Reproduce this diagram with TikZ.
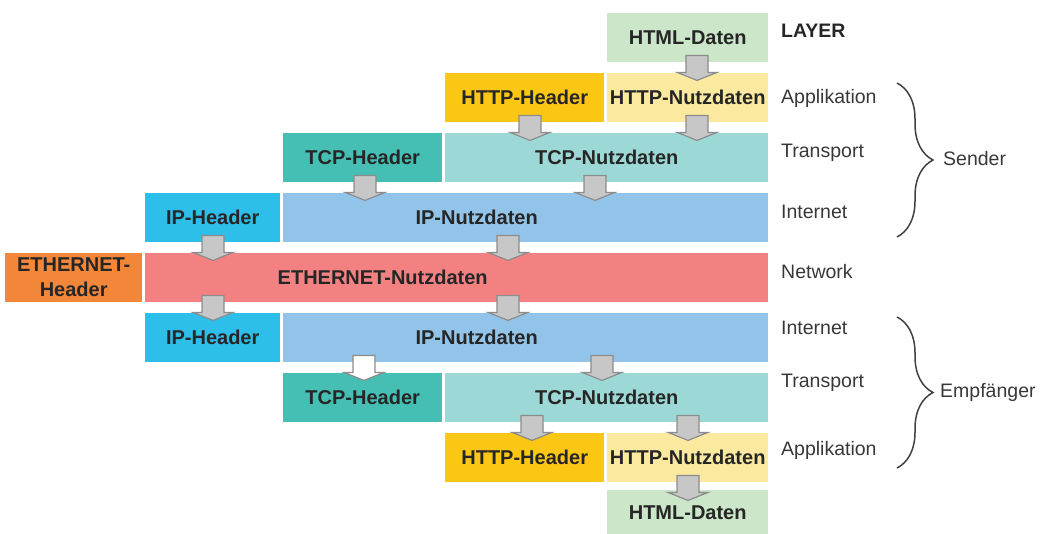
\documentclass[tikz,border=0pt]{standalone}
\usepackage{fontspec}
\setmainfont{Liberation Sans}
\usetikzlibrary{decorations.pathreplacing}
\definecolor{htmlgr}{HTML}{CBE6C8}
\definecolor{httpgelb}{HTML}{FCC714}
\definecolor{httphell}{HTML}{FCE9A0}
\definecolor{tcptuerkis}{HTML}{45BFB3}
\definecolor{tcphell}{HTML}{9CD9D6}
\definecolor{ipcyan}{HTML}{2EBEEA}
\definecolor{iphell}{HTML}{92C4EA}
\definecolor{ethorange}{HTML}{F2873A}
\definecolor{ethrot}{HTML}{F38181}
\tikzset{
  pkt/.style={anchor=north west, inner sep=0pt, minimum height=49pt, text=black!85,
    font=\fontsize{20}{25}\selectfont\bfseries},
  html/.style={pkt, fill=htmlgr, minimum width=161pt},
  httph/.style={pkt, fill=httpgelb, minimum width=159pt},
  httpn/.style={pkt, fill=httphell, minimum width=161pt},
  tcph/.style={pkt, fill=tcptuerkis, minimum width=159pt},
  tcpn/.style={pkt, fill=tcphell, minimum width=323pt},
  iph/.style={pkt, fill=ipcyan, minimum width=135pt},
  ipn/.style={pkt, fill=iphell, minimum width=485pt},
  ethh/.style={pkt, fill=ethorange, minimum width=137pt, align=center},
  ethn/.style={pkt, fill=ethrot, minimum width=623pt},
  ruck/.style={execute at end node={\hspace*{#1}}},
  layer/.style={anchor=west, inner sep=0pt, text=black!78, font=\fontsize{19.5}{22}\selectfont},
  pfeilform/.style={draw=black!45, fill=black!22, line width=1.2pt},
  hohlpfeil/.style={pfeilform, fill=white},
  klammer/.style={decorate, decoration={brace, amplitude=36pt}, draw=black!75, line width=1.5pt},
  pics/pkarrow/.style={code={
    \path[#1] (-11,-7) -- (11,-7) -- (11,10) -- (20,10) -- (0,18) -- (-20,10) -- (-11,10) -- cycle;
  }},
  pics/pkarrow/.default=pfeilform,
}

\begin{document}
\begin{tikzpicture}[x=1pt,y=-1pt]
\useasboundingbox (0,0) rectangle (1043,533);
\begin{scope}
\clip (0,0) rectangle (1043,533);
% Sender
\node[html] (html1) at (607,13) {HTML-Daten};
\node[httph] (httph1) at (445,73) {HTTP-Header};
\node[httpn] (httpn1) at (607,73) {HTTP-Nutzdaten};
\node[tcph] (tcph1) at (283,133) {TCP-Header};
\node[tcpn] (tcpn1) at (445,133) {TCP-Nutzdaten};
\node[iph] (iph1) at (145,193) {IP-Header};
\node[ipn, ruck=98pt] (ipn1) at (283,193) {IP-Nutzdaten};
% Network
\node[ethh] (ethh) at (5,253) {ETHERNET-\\Header};
\node[ethn, ruck=148pt] (ethn) at (145,253) {ETHERNET-Nutzdaten};
% Empfaenger
\node[iph] (iph2) at (145,313) {IP-Header};
\node[ipn, ruck=98pt] (ipn2) at (283,313) {IP-Nutzdaten};
\node[tcph] (tcph2) at (283,373) {TCP-Header};
\node[tcpn] (tcpn2) at (445,373) {TCP-Nutzdaten};
\node[httph] (httph2) at (445,433) {HTTP-Header};
\node[httpn] (httpn2) at (607,433) {HTTP-Nutzdaten};
\node[html, minimum height=45pt] (html2) at (607,490) {HTML-Daten};

\pic at (697,0 |- html1.south) {pkarrow};
\pic at (530,0 |- httph1.south) {pkarrow};
\pic at (697,0 |- httpn1.south) {pkarrow};
\pic at (365,0 |- tcph1.south) {pkarrow};
\pic at (595,0 |- tcpn1.south) {pkarrow};
\pic at (213,0 |- iph1.south) {pkarrow};
\pic at (508,0 |- ipn1.south) {pkarrow};
\pic at (213,0 |- ethn.south) {pkarrow};
\pic at (508,0 |- ethn.south) {pkarrow};
\pic at (364,0 |- ipn2.south) {pkarrow=hohlpfeil};
\pic at (602,0 |- ipn2.south) {pkarrow};
\pic at (532,0 |- tcpn2.south) {pkarrow};
\pic at (688,0 |- tcpn2.south) {pkarrow};
\pic at (688,0 |- httpn2.south) {pkarrow};
\end{scope}

\node[layer, font=\fontsize{19.5}{22}\selectfont\bfseries, text=black!85] (lay) at (781,31) {LAYER};
\node[layer] (app1) at (781,98) {Applikation};
\node[layer] (tra1) at (781,153) {Transport};
\node[layer] (int1) at (781,212) {Internet};
\node[layer] (net) at (781,272) {Network};
\node[layer] (int2) at (781,328) {Internet};
\node[layer] (tra2) at (781,383) {Transport};
\node[layer] (app2) at (781,450) {Applikation};

\draw[klammer] (897,83) -- (897,237);
\draw[klammer] (897,317) -- (897,468);
\node[layer] (sender) at (943,159) {Sender};
\node[layer] (empf) at (940,392) {Empfänger};
\end{tikzpicture}
\end{document}
